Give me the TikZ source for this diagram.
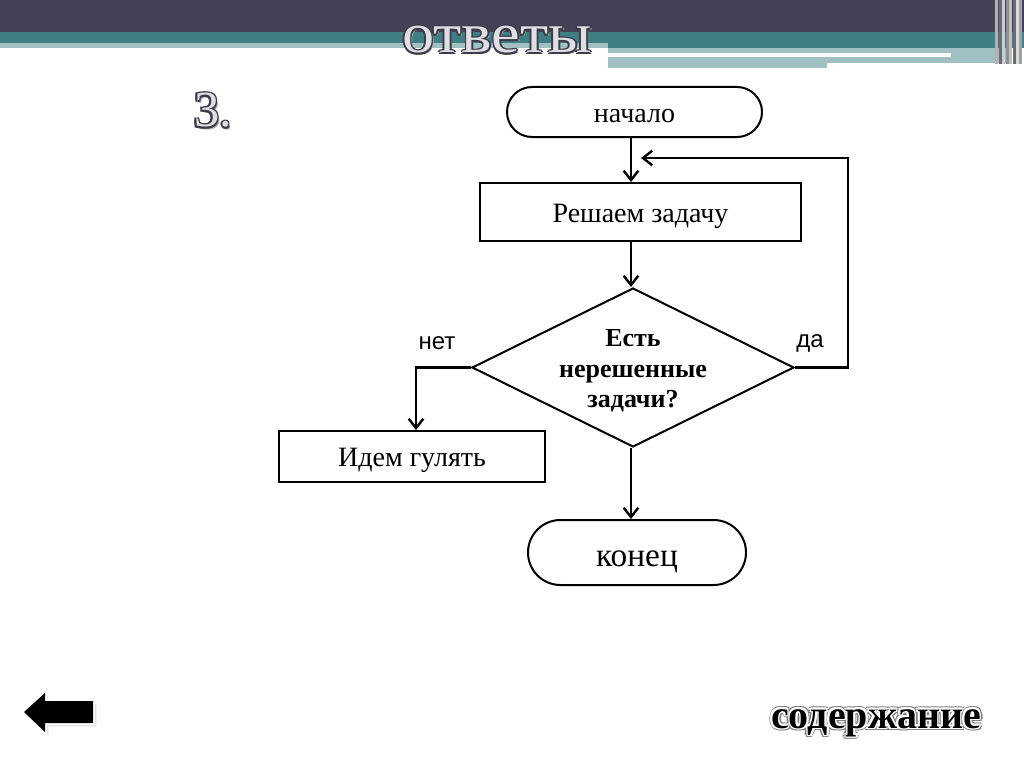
\documentclass[tikz,border=0pt]{standalone}
\usepackage{fontspec}
\setmainfont{Liberation Serif}
\newfontfamily\sansf{Liberation Sans}
\usetikzlibrary{arrows.meta,shapes.misc,shapes.geometric,calc}
\definecolor{hdark}{RGB}{67,67,85}
\definecolor{hteal}{RGB}{63,126,129}
\definecolor{hlight}{RGB}{160,192,194}
\definecolor{outl}{RGB}{60,60,72}
\definecolor{fillg}{RGB}{222,222,228}
\definecolor{shad}{RGB}{170,170,175}
\tikzset{
  fc/.style={draw=black, line width=1.5pt, inner sep=0pt, font=\fontsize{21}{25}\selectfont, text height=15.5pt, text depth=0pt},
  term/.style={fc, rounded rectangle},
  proc/.style={fc, rectangle},
  dec/.style={fc, diamond},
  arr/.style={line width=1.8pt, -{Straight Barb[length=7pt,width=11pt]}},
  lbl/.style={font=\sansf\fontsize{18}{20}\selectfont},
  titlef/.style={font=\fontsize{42}{44}\selectfont, inner sep=0pt, anchor=base, xscale=1.15},
  numf/.style={font=\fontsize{38}{40}\selectfont, inner sep=0pt, anchor=base},
  contf/.style={font=\bfseries\fontsize{30}{32}\selectfont, inner sep=0pt, anchor=base}
}
\begin{document}
\begin{tikzpicture}[x=0.75pt,y=-0.75pt]
\useasboundingbox (0,0) rectangle (1024,767);
\fill[white] (0,0) rectangle (1024,767);
% header
\fill[hdark] (0,0) rectangle (1024,32);
\fill[hteal] (0,32) rectangle (1024,48);
\fill[hlight] (0,43) rectangle (608,48);
\fill[hlight] (608,48) rectangle (1006,63);
\fill[hlight] (608,63) rectangle (827,68);
\fill[white] (608,53) rectangle (951,57);
\foreach \x/\c in {995/gray!60,999/hdark!80,1002/gray!40,1006/hdark!60,1009/gray!50,1013/hdark!80,1016/gray!30,1019/hdark!50}
  \fill[\c] (\x,0) rectangle ++(2.5,64);
% title
\node[titlef, text=shad] (titleshadow) at (499,55) {ответы};
\foreach \a in {0,45,...,315}
  \node[titlef, text=outl, shift={(\a:1.1pt)}] at (497,53) {ответы};
\node[titlef, text=fillg] (title) at (497,53) {ответы};
% number
\node[numf, text=shad] (numshadow) at (215,129) {3.};
\foreach \a in {0,45,...,315}
  \node[numf, text=outl, shift={(\a:1.1pt)}] at (213,127) {3.};
\node[numf, text=fillg] (num) at (213,127) {3.};
% flowchart
\coordinate (col) at (631,0);
\node[term, minimum width={255*0.75pt}, minimum height={50*0.75pt}] (start) at (634.5,112) {начало};
\node[proc, minimum width={321*0.75pt}, minimum height={58*0.75pt}] (solve) at (640.5,212) {Решаем задачу};
\node[dec, minimum width={322*0.75pt}, minimum height={159*0.75pt}] (cond) at (633,367.5) {};
\node[font=\bfseries\fontsize{19.5}{23}\selectfont, align=center, inner sep=0pt] (condtext) at (633,371) {Есть\\нерешенные\\задачи?};
\node[proc, minimum width={266*0.75pt}, minimum height={51*0.75pt}] (walk) at (412,456.5) {Идем гулять};
\node[term, minimum width={218*0.75pt}, minimum height={65*0.75pt}, font=\fontsize{25}{28}\selectfont, text height=21.5pt] (finish) at (637,552.5) {конец};
\node[lbl] (no) at (437,343) {нет};
\node[lbl] (yes) at (810,343) {да};
\coordinate (loopend) at (641,158);
\draw[arr] (start.south -| col) -- (solve.north -| col);
\draw[arr] (solve.south -| col) -- (cond.north -| col);
\draw[arr] (cond.east) -- ++(53,0) |- (loopend);
\draw[arr] (cond.west) -| ($(walk.north)+(4,0)$);
\draw[arr] (cond.south -| col) -- (finish.north -| col);
% back button
\fill[shad] (27,715) -- (48,696) -- (48,704) -- (96,704) -- (96,726) -- (48,726) -- (48,735) -- cycle;
\draw[white, line width=4pt, line join=miter] (24,712) -- (45,693) -- (45,701) -- (93,701) -- (93,723) -- (45,723) -- (45,732) -- cycle;
\fill[black] (24,712) -- (45,693) -- (45,701) -- (93,701) -- (93,723) -- (45,723) -- (45,732) -- cycle;
% contents
\foreach \a in {0,45,...,315}
  \node[contf, text=gray, shift={(\a:2.2pt)}] at (876,728) {содержание};
\foreach \a in {0,45,...,315}
  \node[contf, text=white, shift={(\a:1.3pt)}] at (876,728) {содержание};
\node[contf, text=black] (contents) at (876,728) {содержание};
\end{tikzpicture}
\end{document}
